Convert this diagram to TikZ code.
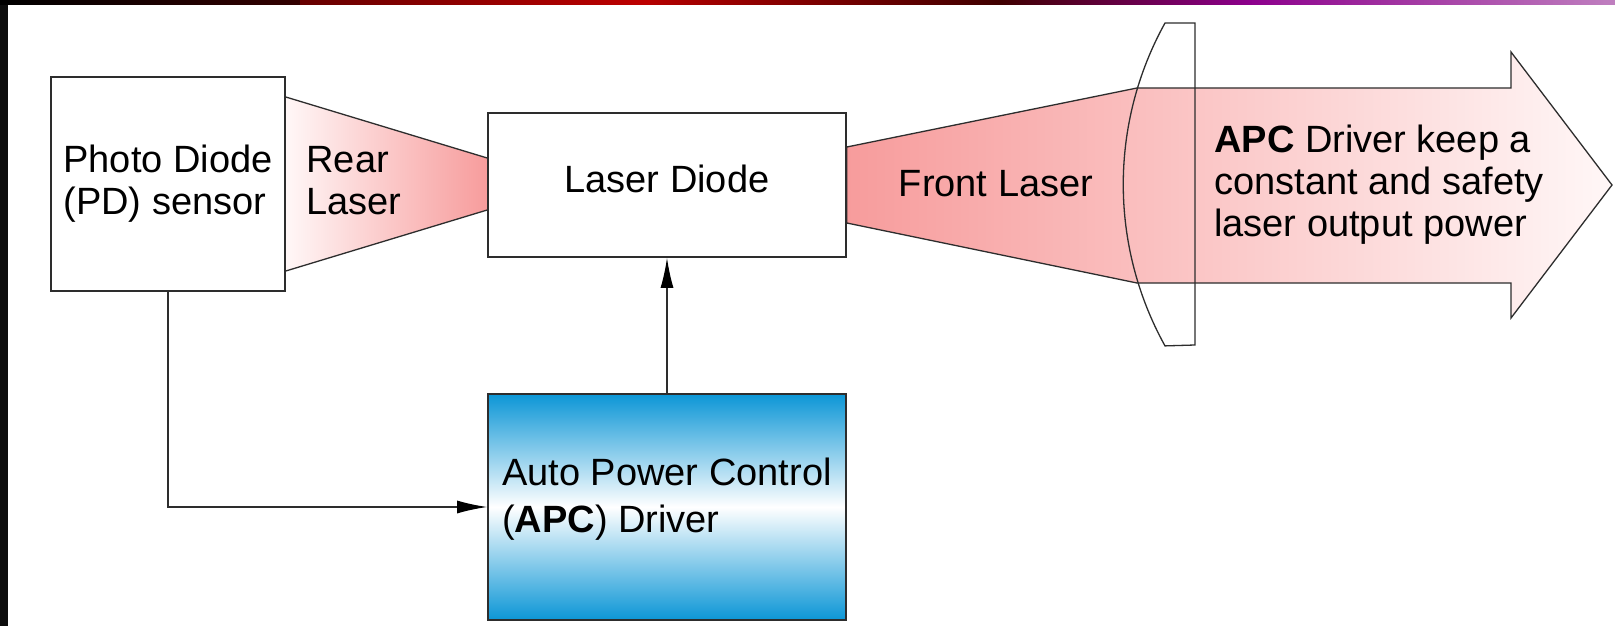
\documentclass[tikz,border=0pt]{standalone}
\usepackage{fontspec}
\setmainfont{Liberation Sans}
\usetikzlibrary{arrows.meta,calc,backgrounds}

\definecolor{beamred}{RGB}{247,156,156}
\definecolor{beamlight}{RGB}{255,247,247}
\definecolor{apcblue}{RGB}{12,150,214}
\definecolor{edge}{RGB}{45,45,45}

\begin{document}
\begin{tikzpicture}[
  x=1pt, y=-1pt,
  block/.style={rectangle, draw=edge, line width=1.6pt, fill=white, inner sep=0pt, align=left, font=\fontsize{38}{42}\selectfont},
  driver/.style={block, top color=apcblue, bottom color=apcblue, middle color=white},
  caption/.style={inner sep=0pt, align=left, font=\fontsize{38}{42}\selectfont},
  beam/.style={draw=edge, line width=1.3pt},
  feed/.style={draw=edge, line width=1.4pt, -{Latex[length=30pt,width=13pt,fill=black,color=black]}}
]
  \useasboundingbox (0,0) rectangle (1615,626);

  \node[block, minimum width=234pt, minimum height=214pt] (PD) at (168,184) {Photo Diode\\(PD) sensor};
  \node[block, minimum width=358pt, minimum height=144pt, text depth=12pt] (LD) at (667,185) {Laser Diode};
  \node[driver, minimum width=358pt, minimum height=226pt, text depth=23pt] (APC) at (667,507) {Auto Power Control\\[5pt](\textbf{APC}) Driver};

  % Beam labels
  \node[caption] (rear) at (354,181) {Rear\\Laser};
  \node[caption] (front) at (996,184) {Front Laser};
  \node[caption] (keep) at (1379,185) {\textbf{APC} Driver keep a\\constant and safety\\laser output power};

  \begin{scope}[on background layer]
    \fill[white] (0,0) rectangle (1615,626);
    % Slide frame
    \fill[black!95] (0,0) rectangle (8,626);
    \foreach \xa/\xb/\ca/\cb in {0/300/black/black!80!red, 300/650/black!60!red/red!75!black, 650/1000/red!70!black/black!75!red, 1000/1250/black!75!red/magenta!55!black, 1250/1615/magenta!55!black/violet!50}
      \shade[left color=\ca, right color=\cb] (\xa,0) rectangle (\xb,5);

    % Rear beam
    \shade[left color=beamlight, right color=beamred] ($(PD.east)+(0,-87)$) -- ($(LD.west)+(0,-27)$) -- ($(LD.west)+(0,25)$) -- ($(PD.east)+(0,87)$) -- cycle;
    \draw[beam] ($(PD.east)+(0,-87)$) -- ($(LD.west)+(0,-27)$) ($(LD.west)+(0,25)$) -- ($(PD.east)+(0,87)$);

    % Front beam and output arrow
    \coordinate (lensT) at (1137,88);
    \coordinate (lensB) at (1137,283);
    \shade[beam, left color=beamred, right color=beamlight] ($(LD.east)+(0,-38)$) -- (lensT) -- (1511,88) -- (1511,52) -- (1612,185) -- (1511,318) -- (1511,283) -- (lensB) -- ($(LD.east)+(0,38)$) -- cycle;

    % Lens
    \draw[beam] (1195,23) -- (1165,23) arc[start angle=209, end angle=151, radius=333] -- (1195,345) -- cycle;
  \end{scope}

  % Control loop
  \draw[feed] (APC.north) -- (LD.south);
  \draw[feed] (PD.south) |- (APC.west);
\end{tikzpicture}
\end{document}
